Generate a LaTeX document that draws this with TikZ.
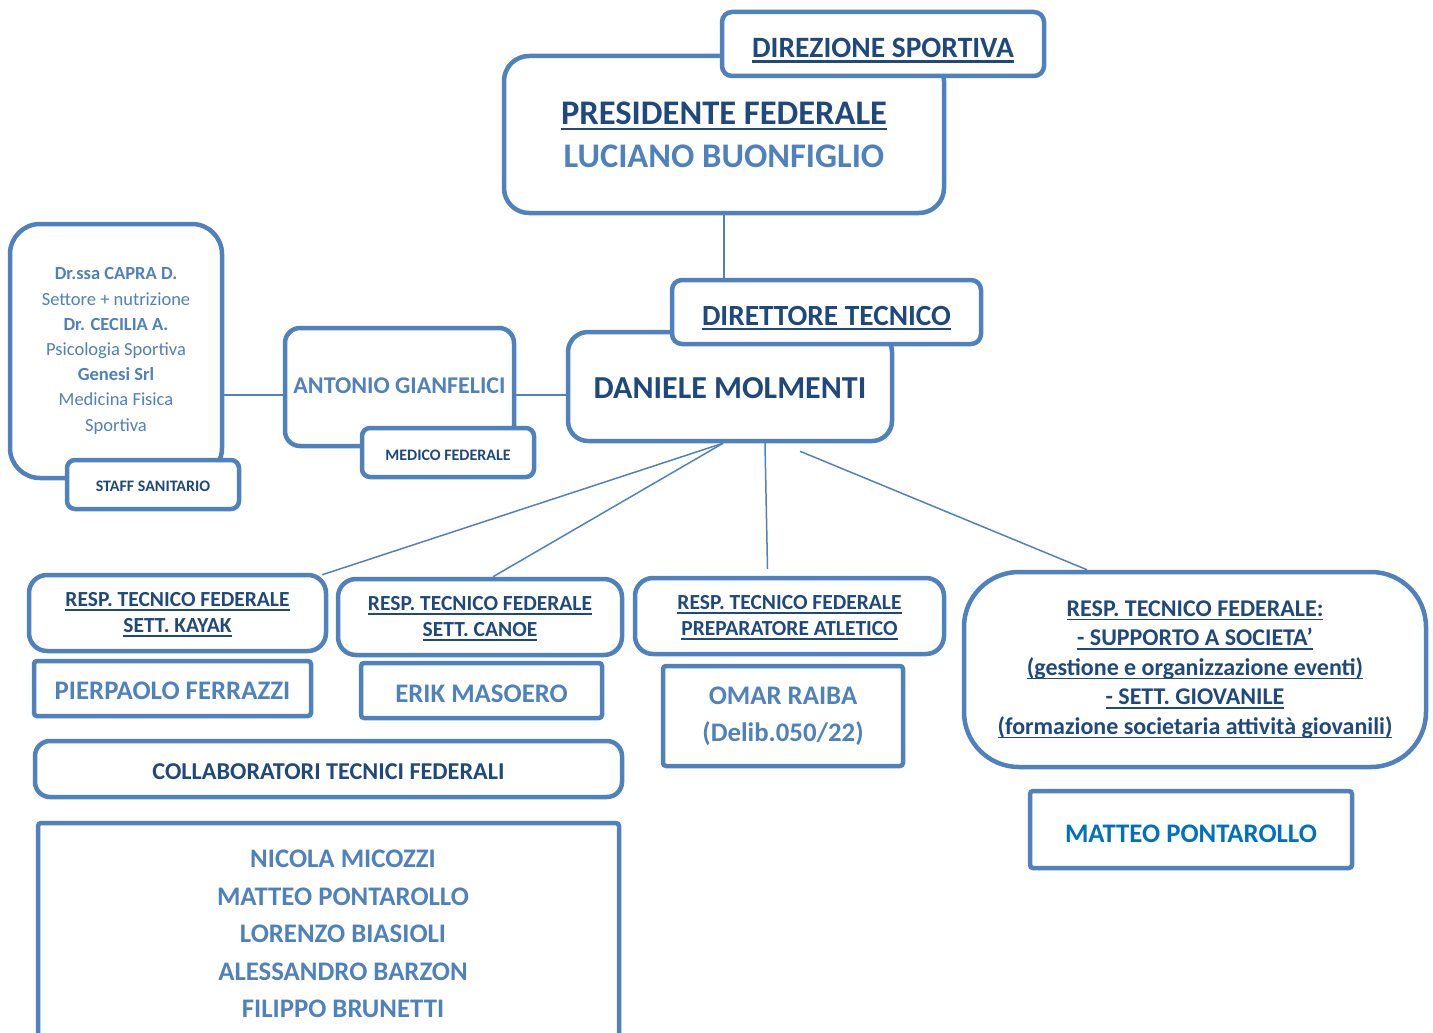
\documentclass[tikz,border=0pt]{standalone}
\usepackage{fontspec}
\setmainfont{Carlito}
\usetikzlibrary{backgrounds}
\definecolor{bord}{HTML}{4F81BD}
\definecolor{dark}{HTML}{1F497D}
\definecolor{light}{HTML}{4F81BD}
\definecolor{vivid}{HTML}{0070C0}
\newcommand{\undl}[1]{\setbox0=\hbox{#1}\rlap{\smash{\rule[-0.17em]{\wd0}{0.07em}}}\box0}
\newcommand{\fsz}[2]{\fontsize{#1}{#2}\selectfont}
\tikzset{
  box/.style={draw=bord, line width=4.5pt, fill=white, rounded corners=#1,
    inner sep=0pt, align=center},
  box/.default=10pt,
  respbox/.style={box=18pt, minimum height=76, text=dark, font=\fsz{21.5}{26}\bfseries},
  person/.style={box=3pt, text=light, font=\fsz{26.8}{37.5}\bfseries},
  lower/.style={text height=#1, text depth=0pt},
  link/.style={draw=bord, line width=1.5pt},
}
\begin{document}
\begin{tikzpicture}[x=1pt, y=-1pt]
\useasboundingbox (0,0) rectangle (1433,1033);
% vertice
\node[box=25pt, minimum width=440, minimum height=157, text=dark,
  font=\fsz{34.5}{43}\bfseries] (pres) at (724,134.5)
  {\undl{PRESIDENTE FEDERALE}\\ \color{light}LUCIANO BUONFIGLIO};
\node[box=10pt, minimum width=322, minimum height=64, text=dark, lower=27pt,
  font=\fsz{29.5}{34}\bfseries] (dirsp) at (883,44) {\undl{DIREZIONE SPORTIVA}};
\node[box=20pt, minimum width=324, minimum height=109, text=dark, lower=23.6pt,
  font=\fsz{32}{36}\bfseries] (dan) at (730,386.5) {DANIELE MOLMENTI};
\node[box=10pt, minimum width=309, minimum height=64, text=dark, lower=27pt,
  font=\fsz{29.3}{34}\bfseries] (dirtec) at (826.5,312) {\undl{DIRETTORE TECNICO}};
% area medica
\node[box=15pt, minimum width=229, minimum height=118, text=light, lower=13.5pt,
  font=\fsz{24}{28}\bfseries] (anton) at (399.5,387) {ANTONIO GIANFELICI};
\node[box=8pt, minimum width=172, minimum height=49, text=dark, lower=15.3pt,
  font=\fsz{16}{19}\bfseries] (medico) at (448,452.5) {MEDICO FEDERALE};
\node[box=30pt, minimum width=212, minimum height=254, text=light,
  font=\fsz{18.5}{25.2}] (staff) at (116,351)
  {\textbf{Dr.ssa CAPRA D.}\\ Settore + nutrizione\\ \textbf{Dr. CECILIA A.}\\
   Psicologia Sportiva\\ \textbf{Genesi Srl}\\ Medicina Fisica\\ Sportiva};
\node[box=8pt, minimum width=172, minimum height=49, text=dark, lower=13.3pt,
  font=\fsz{16}{19}\bfseries] (staffsan) at (153,484.5) {STAFF SANITARIO};
% responsabili
\node[respbox, minimum width=297] (kayak) at (177.5,613)
  {\undl{RESP. TECNICO FEDERALE}\\ \undl{SETT. KAYAK}};
\node[respbox, minimum width=284] (canoe) at (480,617)
  {\undl{RESP. TECNICO FEDERALE}\\ \undl{SETT. CANOE}};
\node[respbox, minimum width=309] (prep) at (789.5,616)
  {\undl{RESP. TECNICO FEDERALE}\\ \undl{PREPARATORE ATLETICO}};
\node[box=55pt, minimum width=462, minimum height=195, text=dark,
  font=\fsz{24}{29.5}\bfseries] (giov) at (1195,669.5)
  {\undl{RESP. TECNICO FEDERALE:}\\ \undl{- SUPPORTO A SOCIETA’}\\
   \undl{(gestione e organizzazione eventi)}\\ \undl{- SETT. GIOVANILE}\\
   \undl{(formazione societaria attività giovanili)}};
% nomi
\node[person, minimum width=277, minimum height=55, lower=22.3pt] (pier) at (172.5,688.5) {PIERPAOLO FERRAZZI};
\node[person, minimum width=241, minimum height=55, lower=24.3pt] (erik) at (481.5,690.5) {ERIK MASOERO};
\node[person, minimum width=240, minimum height=100] (omar) at (783,716) {OMAR RAIBA\\ (Delib.050/22)};
\node[person, minimum width=322, minimum height=77, lower=26.3pt, text=vivid] (matteo) at (1191,829.5) {MATTEO PONTAROLLO};
\node[box=15pt, minimum width=587, minimum height=56, text=dark, lower=21.3pt,
  font=\fsz{24.2}{28}\bfseries] (collab) at (328.5,769) {COLLABORATORI TECNICI FEDERALI};
\node[person, minimum width=581, minimum height=222] (names) at (328.5,934) {};
\node[person, draw=none, fill=none] (namelist) at (343,934)
  {NICOLA MICOZZI\\ MATTEO PONTAROLLO\\ LORENZO BIASIOLI\\ ALESSANDRO BARZON\\ FILIPPO BRUNETTI};
% collegamenti
\coordinate (sa) at ([yshift=-8pt]anton.west);
\coordinate (ad) at ([yshift=-8pt]anton.east);
\coordinate (dg) at ([xshift=70pt,yshift=-8pt]dan.south);
\begin{scope}[on background layer]
\draw[link] (pres.south) -- (pres.south |- dirtec.north);
\draw[link] (staff.east |- sa) -- (sa);
\draw[link] (ad) -- (dan.west |- ad);
\draw[link] ([xshift=-7pt]dan.south) -- ([xshift=-6pt,yshift=-2pt]kayak.north east);
\draw[link] ([xshift=-7pt]dan.south) -- ([xshift=13pt]canoe.north);
\draw[link] ([xshift=35pt]dan.south) -- ([xshift=-22pt,yshift=7pt]prep.north);
\draw[link] (dg) -- ([xshift=-108pt]giov.north);
\end{scope}
\end{tikzpicture}
\end{document}
